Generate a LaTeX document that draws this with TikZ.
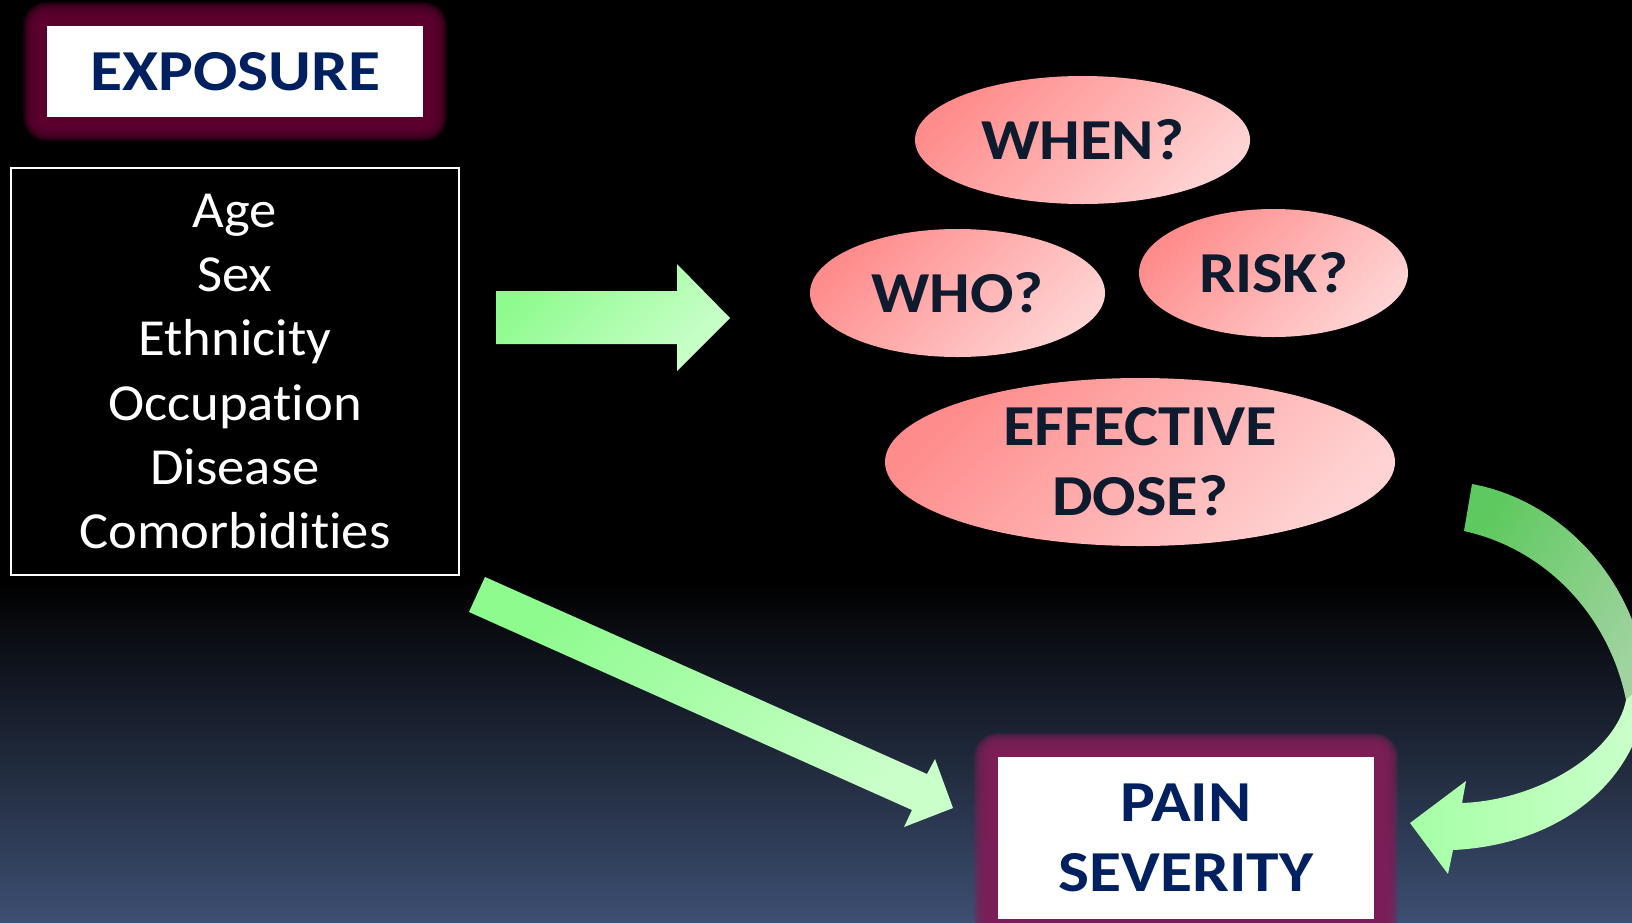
\documentclass[tikz,border=0pt]{standalone}
\usepackage{fontspec}
\setmainfont[Ligatures={NoCommon}, FakeStretch=1.05]{Carlito}
\newfontfamily\boxfont[FakeStretch=1.13]{Carlito}
\newfontfamily\ellfont[FakeStretch=1.11]{Carlito}
\usetikzlibrary{shapes.geometric,calc}
\pgfdeclarelayer{bg}
\pgfdeclarelayer{glow}
\pgfsetlayers{bg,glow,main}
\definecolor{bgblue}{HTML}{3D4F72}
\definecolor{navy}{HTML}{002060}
\definecolor{elltext}{HTML}{0E1B2E}
\definecolor{ellA}{HTML}{FF8C8C}
\definecolor{ellB}{HTML}{FFD3D3}
\definecolor{arrA}{HTML}{8DFB8D}
\definecolor{arrB}{HTML}{CAFFCA}
\definecolor{backA}{HTML}{5EC95E}
\definecolor{backB}{HTML}{A0D3A0}
\definecolor{frontA}{HTML}{A6FFA6}
\definecolor{frontB}{HTML}{CCFFCC}
\definecolor{expglow}{HTML}{5E002F}
\definecolor{painglow}{HTML}{7D1E58}
\tikzset{
  labelbox/.style={rectangle, fill=white, inner sep=0pt, text=navy,
    font=\boxfont\bfseries\fontsize{58}{70}\selectfont, align=center},
  question/.style={ellipse, inner sep=0pt, text=elltext,
    top color=ellA, bottom color=ellB, shading angle=45,
    font=\ellfont\bfseries\fontsize{58}{70}\selectfont, align=center},
  listbox/.style={rectangle, draw=white, line width=1.5pt, inner sep=0pt},
  listtext/.style={text=white, align=center, inner sep=0pt,
    font=\fontsize{52}{64.2}\selectfont},
  greenarrow/.style={top color=arrA, bottom color=arrB, shading angle=45},
}
\begin{document}
\begin{tikzpicture}[x=1pt,y=-1pt]
\useasboundingbox (0,0) rectangle (1632,922);
\clip (0,0) rectangle (1632,922);
\begin{pgfonlayer}{bg}
  \fill[black] (0,0) rectangle (1632,922);
  \shade[top color=black, bottom color=bgblue] (0,580) rectangle (1632,923);
\end{pgfonlayer}

% boxes
\node[labelbox, minimum width=376pt, minimum height=91pt] (exp) at (235,71.5) {EXPOSURE};
\node[labelbox, minimum width=376pt, minimum height=162pt] (pain) at (1186,838) {PAIN\\SEVERITY};
\node[listbox, minimum width=448pt, minimum height=407pt] (list) at (235,371.5) {};
\node[listtext] (factors) at (list.center) {Age\\Sex\\Ethnicity\\Occupation\\Disease\\Comorbidities};

% glows
\begin{pgfonlayer}{glow}
\foreach \k in {0,...,11}{
  \pgfmathsetmacro\e{6+1.6*\k}
  \fill[expglow, fill opacity=0.3, rounded corners=\e pt]
    ($(exp.north west)+(-\e,-\e)$) rectangle ($(exp.south east)+(\e,\e)$);
  \fill[painglow, fill opacity=0.3, rounded corners=\e pt]
    ($(pain.north west)+(-\e,-\e)$) rectangle ($(pain.south east)+(\e,\e)$);
}
\end{pgfonlayer}

% question ellipses
\node[question, minimum width=335pt, minimum height=128pt] (when) at (1082.5,140) {WHEN?};
\node[question, minimum width=295pt, minimum height=128pt] (who) at (957.5,293) {WHO?};
\node[question, minimum width=269pt, minimum height=128pt] (risk) at (1273.5,273) {RISK?};
\node[question, minimum width=510pt, minimum height=168pt] (dose) at (1140,462) {EFFECTIVE\\DOSE?};

% straight block arrow (factors -> questions)
\coordinate (rtail) at (496,318);
\coordinate (rtip) at (730,318);
\shade[greenarrow] ($(rtail)+(0,-27)$) -- (677,291) -- (677,264) -- (rtip)
  -- (677,371) -- (677,344) -- ($(rtail)+(0,26)$) -- cycle;

% diagonal block arrow (factors -> pain severity)
\coordinate (dtip) at (953,808);
\shade[greenarrow] (485,577) -- (927,774) -- (935,759) -- (dtip)
  -- (904,827) -- (912,810) -- (469,612) -- cycle;

% curved arrow (dose -> pain severity)
\shade[top color=backA, bottom color=backB, shading angle=60]
  (1472,484) .. controls (1560,500) and (1640,580) .. (1648,690)
  -- (1626,700) .. controls (1610,620) and (1550,550) .. (1464,531) -- cycle;
\coordinate (ctip) at (1410,823);
\shade[left color=frontA, right color=frontB]
  (1626,700) .. controls (1616,752) and (1540,800) .. (1462,803)
  -- (1466,781) -- (ctip) -- (1448,874) -- (1453,850)
  .. controls (1560,845) and (1645,780) .. (1648,680) -- cycle;
\end{tikzpicture}
\end{document}
